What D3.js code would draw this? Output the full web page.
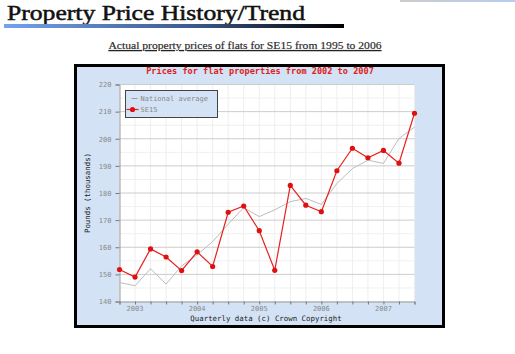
<!DOCTYPE html>
<html lang="en">
<head>
<meta charset="UTF-8" />
<title>Property Price History/Trend</title>
<script src="https://cdn.jsdelivr.net/npm/d3@7"></script>
<style>
  body { margin: 0; background: #fff; }
  svg { display: block; }
</style>
</head>
<body>
<svg id="chart" width="515" height="354"></svg>
<script>
// quarterly data, 2002 Q4 .. 2007 Q3
const quarters = d3.range(20);
const yearLabels = [
  { q: 1, label: "2003" }, { q: 5, label: "2004" }, { q: 9, label: "2005" },
  { q: 13, label: "2006" }, { q: 17, label: "2007" }
];
const nationalAvg = [147.0, 145.8, 152.1, 146.4, 153.1, 157.2, 162.1, 168.5, 174.6, 171.3,
                     173.8, 176.8, 178.0, 175.8, 183.5, 189.0, 192.1, 190.9, 200.1, 204.3];
const se15 = [151.8, 149.0, 159.4, 156.4, 151.4, 158.3, 152.9, 172.9, 175.2, 166.1,
              151.5, 182.8, 175.5, 173.1, 188.2, 196.5, 193.0, 195.7, 191.0, 209.4];
const yTicks = [140, 150, 160, 170, 180, 190, 200, 210, 220];

const svg = d3.select("#chart");
const mono = "'DejaVu Sans Mono', 'Liberation Mono', monospace";
const serif = "'Liberation Serif', 'DejaVu Serif', serif";

// page header
const defs = svg.append("defs");
const grad = defs.append("linearGradient").attr("id", "hdr");
grad.append("stop").attr("offset", "0%").attr("stop-color", "#74a2ee");
grad.append("stop").attr("offset", "55%").attr("stop-color", "#3d5a8e");
grad.append("stop").attr("offset", "100%").attr("stop-color", "#000");
const grad2 = defs.append("linearGradient").attr("id", "hdr2");
grad2.append("stop").attr("offset", "0%").attr("stop-color", "#ccc");
grad2.append("stop").attr("offset", "100%").attr("stop-color", "#b8cdf3");

svg.append("rect").attr("x", 400).attr("y", 0).attr("width", 115).attr("height", 2).attr("fill", "url(#hdr2)");

svg.append("text")
  .attr("x", 7).attr("y", 19.5)
  .attr("textLength", 298).attr("lengthAdjust", "spacingAndGlyphs")
  .style("font-family", serif).style("font-size", "21px")
  .attr("fill", "#111").attr("stroke", "#111").attr("stroke-width", 0.5)
  .text("Property Price History/Trend");
svg.append("rect").attr("x", 4).attr("y", 24).attr("width", 340).attr("height", 4).attr("fill", "url(#hdr)");

svg.append("text")
  .attr("x", 245).attr("y", 49).attr("text-anchor", "middle")
  .attr("textLength", 273).attr("lengthAdjust", "spacingAndGlyphs")
  .style("font-family", serif).style("font-size", "11px")
  .attr("fill", "#222").attr("stroke", "#444").attr("stroke-width", 0.2)
  .attr("text-decoration", "underline")
  .text("Actual property prices of flats for SE15 from 1995 to 2006");

// chart box
svg.append("rect")
  .attr("x", 75.5).attr("y", 65.5).attr("width", 368).attr("height", 261)
  .attr("fill", "#d3e3f5").attr("stroke", "#000").attr("stroke-width", 3);

svg.append("text")
  .attr("x", 260).attr("y", 74).attr("text-anchor", "middle")
  .style("font-family", mono).style("font-size", "8.6px").style("font-weight", "bold")
  .attr("fill", "#e02020")
  .text("Prices for flat properties from 2002 to 2007");

const plot = { left: 119.5, right: 414.5, top: 84.5, bottom: 301.5 };
const x = d3.scaleLinear().domain([0, 19]).range([plot.left, plot.right]);
const y = d3.scaleLinear().domain([140, 220]).range([plot.bottom, plot.top]);

svg.append("rect")
  .attr("x", plot.left).attr("y", plot.top)
  .attr("width", plot.right - plot.left).attr("height", plot.bottom - plot.top)
  .attr("fill", "#fff");

// grid
svg.append("g").selectAll("line").data(quarters).join("line")
  .attr("x1", d => x(d)).attr("x2", d => x(d))
  .attr("y1", plot.top).attr("y2", plot.bottom)
  .attr("stroke", "#eeeeee");
svg.append("g").selectAll("line").data(d3.range(145, 220, 10)).join("line")
  .attr("x1", plot.left).attr("x2", plot.right)
  .attr("y1", d => y(d)).attr("y2", d => y(d))
  .attr("stroke", "#f0f0f0");
svg.append("g").selectAll("line").data(yTicks.slice(1)).join("line")
  .attr("x1", plot.left).attr("x2", plot.right)
  .attr("y1", d => y(d)).attr("y2", d => y(d))
  .attr("stroke", "#cccccc");

// axes
const yAxis = svg.append("g")
  .attr("transform", `translate(${plot.left},0)`)
  .call(d3.axisLeft(y).tickValues(yTicks).tickSize(4).tickPadding(4));
const xAxis = svg.append("g")
  .attr("transform", `translate(0,${plot.bottom})`)
  .call(d3.axisBottom(x).tickValues(quarters).tickSize(3).tickFormat(""));
[yAxis, xAxis].forEach(a => {
  a.select(".domain").attr("stroke", "#999");
  a.selectAll(".tick line").attr("stroke", "#777");
  a.selectAll("text").style("font-family", mono).style("font-size", "7px").attr("fill", "#888");
});

svg.append("g").selectAll("text").data(yearLabels).join("text")
  .attr("x", d => x(d.q)).attr("y", 311).attr("text-anchor", "middle")
  .style("font-family", mono).style("font-size", "7px").attr("fill", "#888")
  .text(d => d.label);

svg.append("text")
  .attr("x", 266).attr("y", 321).attr("text-anchor", "middle")
  .style("font-family", mono).style("font-size", "7.4px").attr("fill", "#222")
  .text("Quarterly data (c) Crown Copyright");
svg.append("text")
  .attr("transform", `translate(90,${(plot.top + plot.bottom) / 2}) rotate(-90)`)
  .attr("text-anchor", "middle")
  .style("font-family", mono).style("font-size", "7.4px").attr("fill", "#222")
  .text("Pounds (thousands)");

// lines
const line = d3.line().x((d, i) => x(i)).y(d => y(d));
svg.append("path").datum(nationalAvg)
  .attr("d", line).attr("fill", "none").attr("stroke", "#bdbdbd").attr("stroke-width", 1);
svg.append("path").datum(se15)
  .attr("d", line).attr("fill", "none").attr("stroke", "#e8201e").attr("stroke-width", 1.2);
svg.append("g").selectAll("circle").data(se15).join("circle")
  .attr("cx", (d, i) => x(i)).attr("cy", d => y(d)).attr("r", 2.6)
  .attr("fill", "#e01010");

// legend
const lg = svg.append("g").attr("transform", "translate(125.5,90.5)");
lg.append("rect").attr("width", 92).attr("height", 27)
  .attr("fill", "#d3e3f5").attr("stroke", "#444").attr("stroke-width", 1);
lg.append("line").attr("x1", 6).attr("x2", 12).attr("y1", 8).attr("y2", 8).attr("stroke", "#999");
lg.append("text").attr("x", 15).attr("y", 10.5)
  .style("font-family", mono).style("font-size", "7px").attr("fill", "#888")
  .text("National average");
lg.append("line").attr("x1", 1).attr("x2", 13).attr("y1", 19).attr("y2", 19).attr("stroke", "#e8201e").attr("stroke-width", 1.2);
lg.append("circle").attr("cx", 7).attr("cy", 19).attr("r", 2.6).attr("fill", "#e01010");
lg.append("text").attr("x", 15).attr("y", 21.5)
  .style("font-family", mono).style("font-size", "7px").attr("fill", "#888")
  .text("SE15");
</script>
</body>
</html>
